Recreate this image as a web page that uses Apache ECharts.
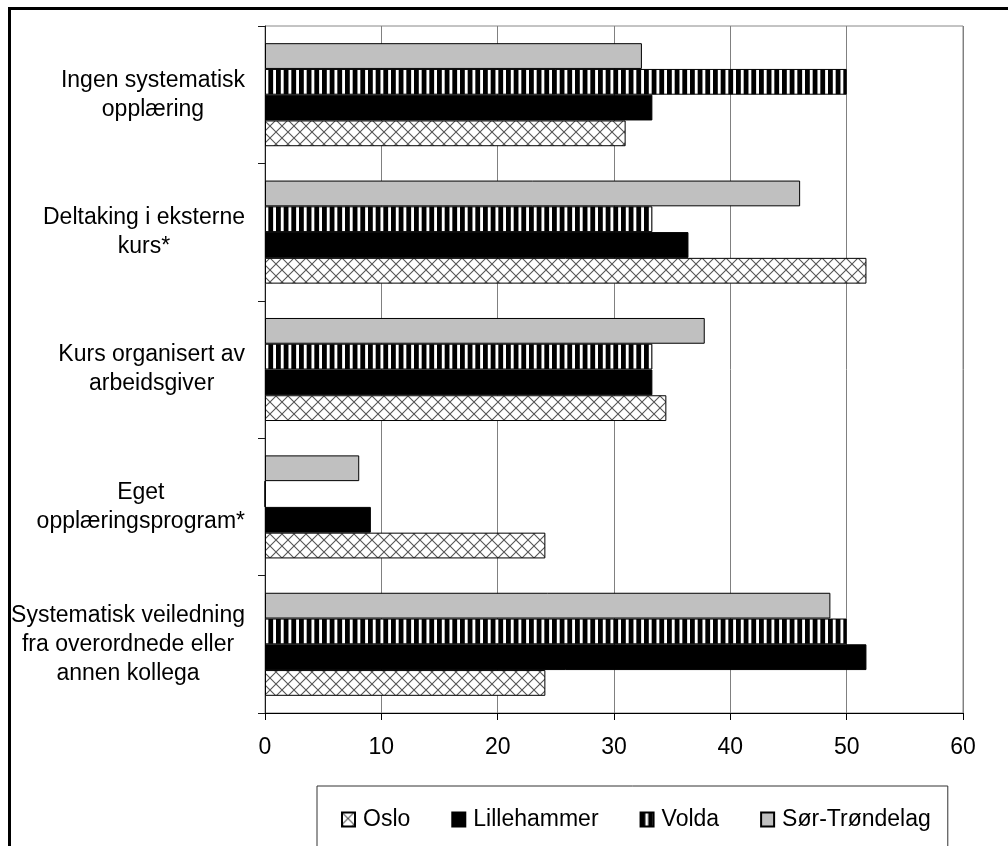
<!DOCTYPE html>
<html>
<head>
<meta charset="utf-8">
<script src="https://cdn.jsdelivr.net/npm/echarts@6/dist/echarts.min.js"></script>
<style>
  html, body { margin: 0; padding: 0; background: #fff; }
  #chart { width: 1008px; height: 846px; }
</style>
</head>
<body>
<div id="chart"></div>
<script>
// kategorier, ovenfra og ned slik de står i figuren
const categories = [
    'Ingen systematisk\nopplæring',
    'Deltaking i eksterne\nkurs*',
    'Kurs organisert av\narbeidsgiver',
    'Eget\nopplæringsprogram*',
    'Systematisk veiledning\nfra overordnede eller\nannen kollega'
];
const seriesNames = ['Oslo', 'Lillehammer', 'Volda', 'Sør-Trøndelag'];
// prosent, samme rekkefølge som categories
const oslo = [31.0, 51.7, 34.5, 24.1, 24.1];
const lillehammer = [33.3, 36.4, 33.3, 9.1, 51.7];
const volda = [50.0, 33.3, 33.3, 0, 50.0];
const sorTrondelag = [32.4, 46.0, 37.8, 8.1, 48.6];
const xTicks = [0, 10, 20, 30, 40, 50, 60];

const FONT = '"Liberation Sans", Arial, sans-serif';

// mønster: kryssravering (Oslo)
function crossPattern() {
    const c = document.createElement('canvas');
    c.width = 12; c.height = 12;
    const ctx = c.getContext('2d');
    ctx.fillStyle = '#fff';
    ctx.fillRect(0, 0, 12, 12);
    ctx.strokeStyle = '#555';
    ctx.lineWidth = 1.1;
    ctx.beginPath();
    ctx.moveTo(-1, -1); ctx.lineTo(13, 13);
    ctx.moveTo(13, -1); ctx.lineTo(-1, 13);
    ctx.stroke();
    return { image: c, repeat: 'repeat' };
}

// mønster: loddrette striper (Volda)
function stripePattern() {
    const c = document.createElement('canvas');
    c.width = 23; c.height = 4;
    const ctx = c.getContext('2d');
    ctx.fillStyle = '#fff';
    ctx.fillRect(0, 0, 23, 4);
    ctx.fillStyle = '#000';
    for (let i = 0; i < 3; i++) {
        ctx.fillRect(i * 23 / 3, 0, 4.8, 4);
    }
    return { image: c, repeat: 'repeat' };
}

const fills = [crossPattern(), '#000000', stripePattern(), '#c0c0c0'];
const values = [oslo, lillehammer, volda, sorTrondelag];

const chart = echarts.init(document.getElementById('chart'));

// første serie havner øverst i gruppen, så rekkefølgen snus (Oslo nederst)
const series = seriesNames.map((name, i) => ({
    name: name,
    type: 'bar',
    data: values[i].slice().reverse(),
    barGap: '0%',
    barCategoryGap: '25%',
    itemStyle: {
        color: fills[i],
        borderColor: '#000',
        borderWidth: 1
    }
})).reverse();

const option = {
    backgroundColor: '#fff',
    animation: false,
    grid: {
        left: 265,
        right: 45,
        top: 26,
        bottom: 133,
        show: true,
        borderColor: '#888',
        borderWidth: 1
    },
    legend: {
        data: seriesNames,
        left: 317,
        top: 786,
        padding: [22, 17, 40, 24],
        itemWidth: 13,
        itemHeight: 14,
        itemGap: 41,
        icon: 'rect',
        borderColor: '#333',
        borderWidth: 1,
        textStyle: {
            fontSize: 23,
            color: '#000',
            fontFamily: FONT,
            padding: [0, 0, 0, 3]
        }
    },
    xAxis: {
        type: 'value',
        min: xTicks[0],
        max: xTicks[xTicks.length - 1],
        interval: 10,
        axisLine: { show: true, lineStyle: { color: '#000', width: 1 } },
        axisTick: { show: true, length: 7, lineStyle: { color: '#000' } },
        axisLabel: {
            margin: 23,
            fontSize: 23,
            color: '#000',
            fontFamily: FONT
        },
        splitLine: { show: true, lineStyle: { color: '#808080', width: 1 } }
    },
    yAxis: {
        type: 'category',
        // echarts tegner første kategori nederst
        data: categories.slice().reverse(),
        axisLine: { show: true, lineStyle: { color: '#1a1a1a', width: 1 } },
        axisTick: { show: true, length: 7, lineStyle: { color: '#1a1a1a' } },
        axisLabel: {
            margin: 20,
            formatter: v => v.split('\n').map(s => '{c|' + s + '}').join('\n'),
            rich: {
                c: {
                    align: 'center',
                    fontSize: 23,
                    lineHeight: 29,
                    color: '#000',
                    fontFamily: FONT
                }
            }
        }
    },
    series: series
};

chart.setOption(option);

// ytre ramme rundt hele figuren
chart.setOption({
    graphic: [{
        type: 'rect',
        shape: { x: 9.5, y: 8.5, width: 1100, height: 1000 },
        style: { fill: 'none', stroke: '#000', lineWidth: 3 },
        silent: true
    }]
});
</script>
</body>
</html>
